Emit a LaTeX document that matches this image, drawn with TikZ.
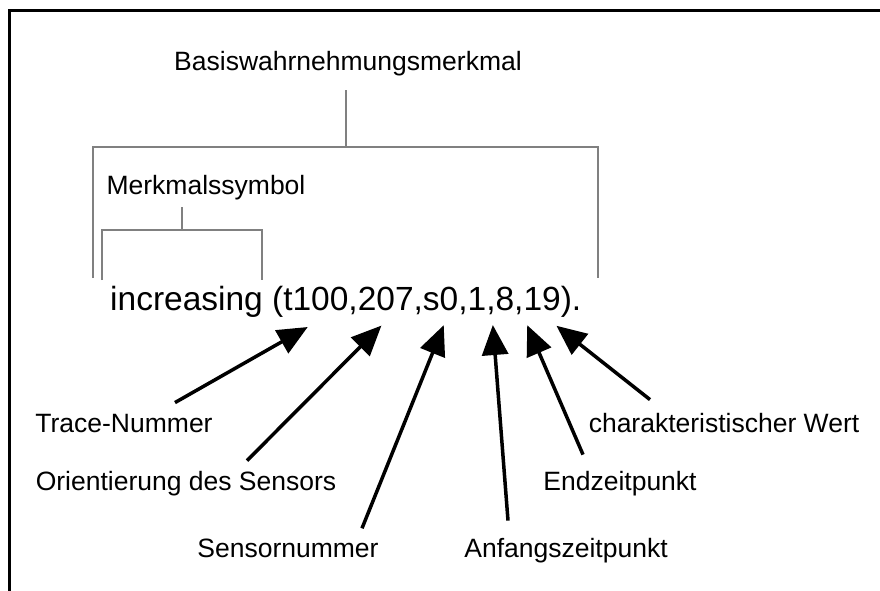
\documentclass[tikz,border=0pt]{standalone}
\usepackage{fontspec}
\setmainfont{Liberation Sans}
\usetikzlibrary{arrows.meta,calc}
\begin{document}
\begin{tikzpicture}[x=1pt,y=-1pt,
  lbl/.style={inner sep=0pt,anchor=base,font=\fontsize{26.5}{30}\selectfont},
  term/.style={inner sep=0pt,anchor=base west,font=\fontsize{33.5}{37}\selectfont},
  brace/.style={draw=black!50,line width=2pt},
  pointer/.style={draw=black,line width=3.5pt,
    -{Triangle[length=30pt,width=26pt]},shorten >=-2pt}]
\useasboundingbox (0,0) rectangle (880,590);
% open frame
\draw[line width=3pt] (9,592) -- (9,10) -- (882,10);

% labels above the term
\node[lbl] (basis) at (348,70) {Basiswahrnehmungsmerkmal};
\node[lbl] (symb) at (206,194) {Merkmalssymbol};

% the term
\node[term] (term) at (110,310) {increasing (t100,207,s0,1,8,19).};

% outer bracket
\coordinate (bstem) at (346,90);
\coordinate (bl) at (93,147);
\coordinate (br) at (598,147);
\draw[brace] (bstem) -- (346,147);
\draw[brace] (93,278) -- (bl) -- (br) -- (598,278);
% inner bracket
\coordinate (sstem) at (182,207);
\draw[brace] (sstem) -- (182,230);
\draw[brace] (102,280) -- (102,230) -- (262,230) -- (262,280);

% labels below the term
\node[lbl] (trace) at (124,432) {Trace-Nummer};
\node[lbl] (orient) at (186,490) {Orientierung des Sensors};
\node[lbl] (snum) at (288,557) {Sensornummer};
\node[lbl] (start) at (566,557) {Anfangszeitpunkt};
\node[lbl] (endz) at (620,490) {Endzeitpunkt};
\node[lbl] (charw) at (724,432) {charakteristischer Wert};

% arrow tips under the term
\coordinate (tTrace) at (306,328);
\coordinate (tOrient) at (380,327);
\coordinate (tSnum) at (443,327);
\coordinate (tStart) at (493,327);
\coordinate (tEnd) at (528,327);
\coordinate (tChar) at (558,327);

\draw[pointer] ($(trace.north)+(51,-11)$) -- (tTrace);
\draw[pointer] ($(orient.north)+(61,-10)$) -- (tOrient);
\draw[pointer] ($(snum.north)+(74,-10)$) -- (tSnum);
\draw[pointer] ($(start.north)+(-58,-17)$) -- (tStart);
\draw[pointer] ($(endz.north)+(-37,-16)$) -- (tEnd);
\draw[pointer] ($(charw.north)+(-74,-13)$) -- (tChar);
\end{tikzpicture}
\end{document}
